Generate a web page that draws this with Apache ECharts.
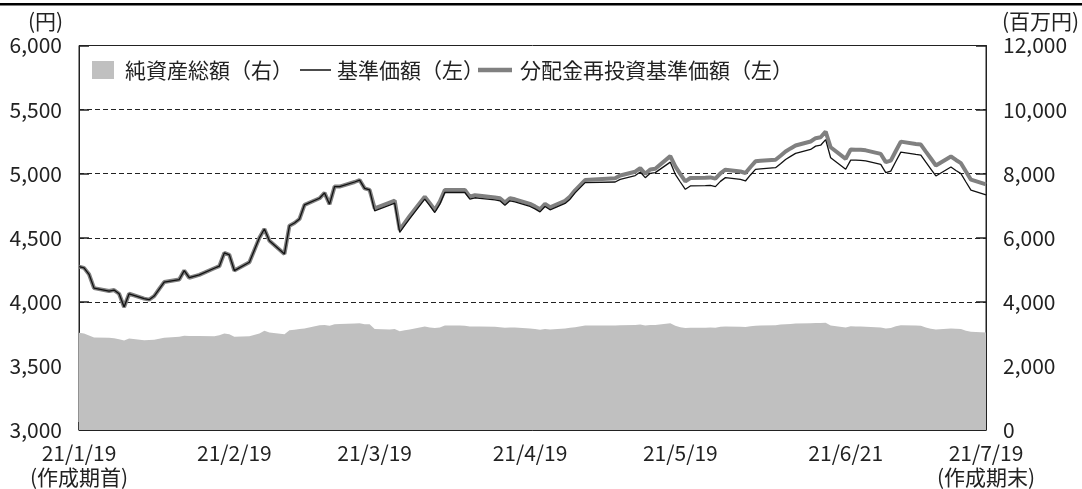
<!DOCTYPE html>
<html>
<head>
<meta charset="utf-8">
<script src="https://cdn.jsdelivr.net/npm/echarts@6/dist/echarts.min.js"></script>
<style>
  html, body { margin: 0; padding: 0; background: #fff; }
  #chart { width: 1082px; height: 489px; }
</style>
</head>
<body>
<div id="chart"></div>
<script>
// 営業日 (2021年)
const tradeDays = [
  '1/19','1/20','1/21','1/22','1/25','1/26','1/27','1/28','1/29',
  '2/1','2/2','2/3','2/4','2/5','2/8','2/9','2/10','2/12','2/15','2/16','2/17','2/18','2/19','2/22','2/24','2/25','2/26',
  '3/1','3/2','3/3','3/4','3/5','3/8','3/9','3/10','3/11','3/12','3/15','3/16','3/17','3/18','3/19','3/22','3/23','3/24','3/25','3/26','3/29','3/30','3/31',
  '4/1','4/2','4/5','4/6','4/7','4/8','4/9','4/12','4/13','4/14','4/15','4/16','4/19','4/20','4/21','4/22','4/23','4/26','4/27','4/28','4/30',
  '5/6','5/7','5/10','5/11','5/12','5/13','5/14','5/17','5/18','5/19','5/20','5/21','5/24','5/25','5/26','5/27','5/28','5/31',
  '6/1','6/2','6/3','6/4','6/7','6/8','6/9','6/10','6/11','6/14','6/15','6/16','6/17','6/18','6/21','6/22','6/23','6/24','6/25','6/28','6/29','6/30',
  '7/1','7/2','7/5','7/6','7/7','7/8','7/9','7/12','7/13','7/14','7/15','7/16','7/19'
]

// 基準価額（円）
const navValues = [
  4275, 4265, 4215, 4107, 4084, 4092, 4063, 3960, 4063,
  4025, 4017, 4045, 4100, 4154, 4174, 4244, 4188, 4210, 4262, 4278, 4382, 4366, 4244, 4309, 4500, 4568, 4477,
  4374, 4594, 4615, 4646, 4757, 4808, 4850, 4762, 4899, 4899, 4935, 4950, 4885, 4873, 4710, 4755, 4770, 4542, 4596, 4650, 4801, 4750, 4697,
  4762, 4853, 4853, 4853, 4801, 4812, 4808, 4795, 4788, 4754, 4788, 4780, 4744, 4725, 4702, 4744, 4718, 4768, 4801, 4850, 4930,
  4935, 4956, 4985, 5013, 4969, 5003, 5008, 5090, 4995, 4935, 4878, 4904, 4907, 4909, 4899, 4940, 4969, 4955,
  4943, 4990, 5034, 5038, 5047, 5078, 5111, 5135, 5158, 5189, 5215, 5222, 5266, 5124, 5034, 5106, 5105, 5104, 5100, 5072, 5008, 5020,
  5095, 5168, 5150, 5145, 5090, 5036, 4982, 5052, 5025, 5000, 4935, 4871, 4834
]

// 分配金再投資基準価額（円）
const reinvestValues = [
  4275, 4265, 4215, 4107, 4084, 4092, 4063, 3960, 4063,
  4025, 4017, 4045, 4100, 4154, 4174, 4244, 4188, 4210, 4262, 4278, 4382, 4366, 4244, 4309, 4500, 4568, 4477,
  4374, 4594, 4615, 4646, 4757, 4808, 4850, 4762, 4899, 4899, 4935, 4950, 4885, 4873, 4730, 4775, 4790, 4562, 4616, 4670, 4821, 4770, 4717,
  4782, 4873, 4873, 4873, 4821, 4832, 4828, 4815, 4808, 4774, 4808, 4800, 4764, 4745, 4722, 4764, 4738, 4788, 4821, 4870, 4950,
  4965, 4986, 5015, 5043, 4999, 5033, 5038, 5137, 5057, 4997, 4940, 4966, 4969, 4971, 4961, 5002, 5031, 5017,
  5005, 5052, 5096, 5100, 5109, 5140, 5173, 5197, 5220, 5251, 5277, 5284, 5328, 5206, 5116, 5188, 5187, 5186, 5182, 5154, 5090, 5102,
  5177, 5250, 5232, 5227, 5172, 5118, 5064, 5134, 5107, 5082, 5017, 4953, 4916
]

// 純資産総額（百万円）
const netAssets = [
  3033, 3012, 2950, 2888, 2878, 2860, 2835, 2795, 2857,
  2804, 2810, 2816, 2850, 2878, 2909, 2940, 2930, 2930, 2928, 2960, 3012, 2990, 2909, 2928, 3012, 3096, 3043,
  2990, 3114, 3130, 3150, 3167, 3270, 3280, 3250, 3300, 3310, 3322, 3330, 3300, 3300, 3150, 3140, 3150, 3080, 3110, 3140, 3230, 3200, 3180,
  3200, 3260, 3260, 3250, 3230, 3230, 3230, 3220, 3210, 3190, 3200, 3200, 3170, 3150, 3130, 3150, 3140, 3170, 3190, 3210, 3260,
  3260, 3270, 3280, 3290, 3260, 3280, 3280, 3330, 3250, 3210, 3180, 3190, 3190, 3200, 3190, 3220, 3230, 3220,
  3215, 3240, 3250, 3260, 3270, 3290, 3300, 3310, 3320, 3330, 3340, 3340, 3350, 3260, 3200, 3240, 3230, 3230, 3220, 3200, 3167, 3180,
  3240, 3270, 3260, 3251, 3200, 3160, 3136, 3167, 3160, 3150, 3100, 3065, 3043
]

const labelDays = ['1/19', '2/19', '3/19', '4/19', '5/19', '6/21', '7/19']

const fontFamily = '"Noto Sans CJK JP", "Noto Sans", sans-serif'
const textColor = '#222'

// カレンダー日（期首〜期末）を横軸のカテゴリにする
const calendarDays = []
for (let d = new Date(2021, 0, 19); d <= new Date(2021, 6, 19); d.setDate(d.getDate() + 1)) {
  calendarDays.push((d.getMonth() + 1) + '/' + d.getDate())
}

const pairs = vals => tradeDays.map((d, i) => [calendarDays.indexOf(d), vals[i]])
const isLabelDay = (idx, val) => labelDays.indexOf(val) >= 0

const chart = echarts.init(document.getElementById('chart'))

chart.setOption({
  animation: false,
  textStyle: { fontFamily: fontFamily },
  grid: {
    left: 79,
    right: 96,
    top: 45.5,
    bottom: 57,
    show: true,
    borderColor: '#222',
    borderWidth: 1
  },
  legend: [{
    data: [{ name: '純資産総額（右）', icon: 'rect' }],
    left: 92,
    top: 59.5,
    padding: 0,
    itemWidth: 22,
    itemHeight: 18,
    textStyle: { fontSize: 21, color: textColor, fontFamily: fontFamily, padding: [0, 0, 0, 6] }
  }, {
    data: [{ name: '基準価額（左）', icon: 'rect' }],
    left: 300,
    top: 59.5,
    padding: 0,
    itemWidth: 31,
    itemHeight: 1.5,
    textStyle: { fontSize: 21, color: textColor, fontFamily: fontFamily, padding: [0, 0, 0, 1] }
  }, {
    data: [{ name: '分配金再投資基準価額（左）', icon: 'rect' }],
    left: 478,
    top: 59.5,
    padding: 0,
    itemWidth: 34,
    itemHeight: 4.5,
    textStyle: { fontSize: 21, color: textColor, fontFamily: fontFamily, padding: [0, 0, 0, 3] }
  }],
  graphic: [{
    type: 'rect',
    left: 0,
    top: 3,
    shape: { width: 1082, height: 2.5 },
    style: { fill: '#000' }
  }, {
    type: 'text',
    left: 28,
    top: 11,
    style: { text: '(円)', fill: textColor, font: '21px ' + fontFamily }
  }, {
    type: 'text',
    left: 1002,
    top: 11,
    style: { text: '(百万円)', fill: textColor, font: '21px ' + fontFamily }
  }],
  xAxis: {
    type: 'category',
    data: calendarDays,
    boundaryGap: false,
    axisLine: { lineStyle: { color: '#222', width: 1 } },
    axisTick: {
      show: true,
      inside: true,
      length: 8,
      interval: isLabelDay,
      lineStyle: { color: '#222', width: 1.5 }
    },
    axisLabel: {
      interval: isLabelDay,
      showMinLabel: true,
      showMaxLabel: true,
      margin: 11,
      fontSize: 21,
      lineHeight: 24,
      color: textColor,
      formatter: function (v) {
        let s = '21/' + v
        if (v === labelDays[0]) s += '\n(作成期首)'
        if (v === labelDays[labelDays.length - 1]) s += '\n(作成期末)'
        return s
      }
    },
    splitLine: { show: false }
  },
  yAxis: [{
    type: 'value',
    min: 3000,
    max: 6000,
    interval: 500,
    axisLine: { show: true, lineStyle: { color: '#222', width: 1 } },
    axisTick: { show: true, inside: true, length: 10, lineStyle: { color: '#222', width: 1.5 } },
    axisLabel: {
      margin: 17,
      fontSize: 21,
      color: textColor,
      formatter: v => v.toLocaleString('en-US')
    },
    splitLine: { show: true, lineStyle: { color: '#222', type: [5, 3], width: 1 } }
  }, {
    type: 'value',
    min: 0,
    max: 12000,
    interval: 2000,
    position: 'right',
    axisLine: { show: true, lineStyle: { color: '#222', width: 1 } },
    axisTick: { show: true, inside: true, length: 10, lineStyle: { color: '#222', width: 1.5 } },
    axisLabel: {
      margin: 17,
      fontSize: 21,
      color: textColor,
      formatter: v => v.toLocaleString('en-US')
    },
    splitLine: { show: false }
  }],
  series: [{
    name: '純資産総額（右）',
    type: 'line',
    yAxisIndex: 1,
    data: pairs(netAssets),
    symbol: 'none',
    lineStyle: { width: 0, color: '#c0c0c0' },
    itemStyle: { color: '#c0c0c0' },
    areaStyle: { color: '#c0c0c0', opacity: 1 }
  }, {
    name: '分配金再投資基準価額（左）',
    type: 'line',
    data: pairs(reinvestValues),
    symbol: 'none',
    lineStyle: { width: 4, color: '#808080' },
    itemStyle: { color: '#808080' }
  }, {
    name: '基準価額（左）',
    type: 'line',
    data: pairs(navValues),
    symbol: 'none',
    lineStyle: { width: 1.3, color: '#111' },
    itemStyle: { color: '#111' }
  }]
})
</script>
</body>
</html>
